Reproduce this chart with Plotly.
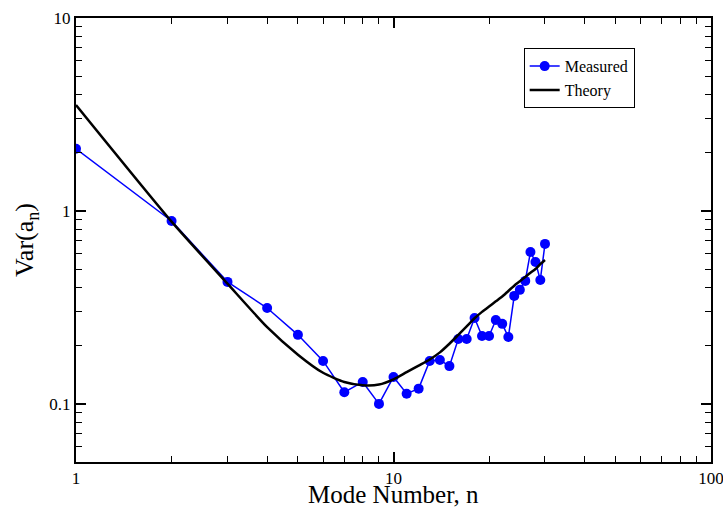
import plotly.graph_objects as go

n_measured = list(range(1, 31))
var_measured = [2.10, 0.887, 0.429, 0.314, 0.228, 0.167, 0.115, 0.130, 0.100, 0.138,
                0.113, 0.120, 0.167, 0.169, 0.157, 0.217, 0.217, 0.279, 0.225, 0.225,
                0.272, 0.260, 0.222, 0.363, 0.390, 0.434, 0.613, 0.544, 0.439, 0.675]

n_theory = list(range(1, 31))
var_theory = [3.54, 0.88, 0.42, 0.25, 0.18, 0.145, 0.130, 0.125, 0.126, 0.134,
              0.146, 0.158, 0.170, 0.185, 0.205, 0.228, 0.252, 0.278, 0.30, 0.32,
              0.34, 0.36, 0.385, 0.41, 0.432, 0.455, 0.478, 0.50, 0.53, 0.557]

x_tickvals = [1, 10, 100]
x_ticktext = ["1", "10", "100"]
y_tickvals = [0.1, 1, 10]
y_ticktext = ["0.1", "1", "10"]
x_title = "Mode Number, n"
y_title = "Var(a<sub>n</sub>)"

font_family = "Liberation Serif"

fig = go.Figure()
fig.add_trace(go.Scatter(x=n_measured, y=var_measured, mode="lines+markers", name="Measured",
                         line=dict(color="#0000ff", width=1.5),
                         marker=dict(color="#0000ff", size=10)))
fig.add_trace(go.Scatter(x=n_theory, y=var_theory, mode="lines", name="Theory",
                         line=dict(color="black", width=2.5, shape="spline", smoothing=0.6)))

axis_common = dict(showgrid=False, zeroline=False, showline=True, linecolor="black", linewidth=2,
                   mirror="ticks", ticks="inside", ticklen=10, tickwidth=1.5, tickcolor="black",
                   automargin=False, ticklabeloverflow="allow",
                   tickfont=dict(family=font_family, size=17, color="black"))

fig.update_xaxes(type="log", range=[0, 2], tickvals=x_tickvals, ticktext=x_ticktext,
                 minor=dict(ticks="inside", ticklen=6, tickwidth=1.2, tickcolor="black",
                            tickvals=[2, 3, 4, 5, 6, 7, 8, 9, 20, 30, 40, 50, 60, 70, 80, 90]),
                 **axis_common)
fig.update_yaxes(type="log", range=[-1.30103, 1], tickvals=y_tickvals, ticktext=y_ticktext,
                 minor=dict(ticks="inside", ticklen=6, tickwidth=1.2, tickcolor="black",
                            tickvals=[0.06, 0.07, 0.08, 0.09, 0.2, 0.3, 0.4, 0.5, 0.6, 0.7, 0.8, 0.9,
                                      2, 3, 4, 5, 6, 7, 8, 9]),
                 title=dict(text=y_title, font=dict(family=font_family, size=26, color="black"),
                            standoff=8),
                 **axis_common)

fig.add_annotation(text=x_title, xref="paper", yref="paper", x=0.5, y=0,
                   xanchor="center", yanchor="top", yshift=-17, showarrow=False,
                   font=dict(family=font_family, size=25, color="black"))

fig.update_layout(
    width=723, height=508,
    margin=dict(l=76, r=12, t=18, b=46),
    plot_bgcolor="white", paper_bgcolor="white",
    font=dict(family=font_family, color="black"),
    legend=dict(x=0.705, y=0.932, xanchor="left", yanchor="top",
                bordercolor="black", borderwidth=1, bgcolor="white",
                font=dict(family=font_family, size=16, color="black"),
                tracegroupgap=0, itemwidth=30),
    showlegend=True,
)

fig.write_html("out.html", config={"displayModeBar": False},
               post_script="document.body.style.margin='0px';document.body.style.overflow='hidden';")
